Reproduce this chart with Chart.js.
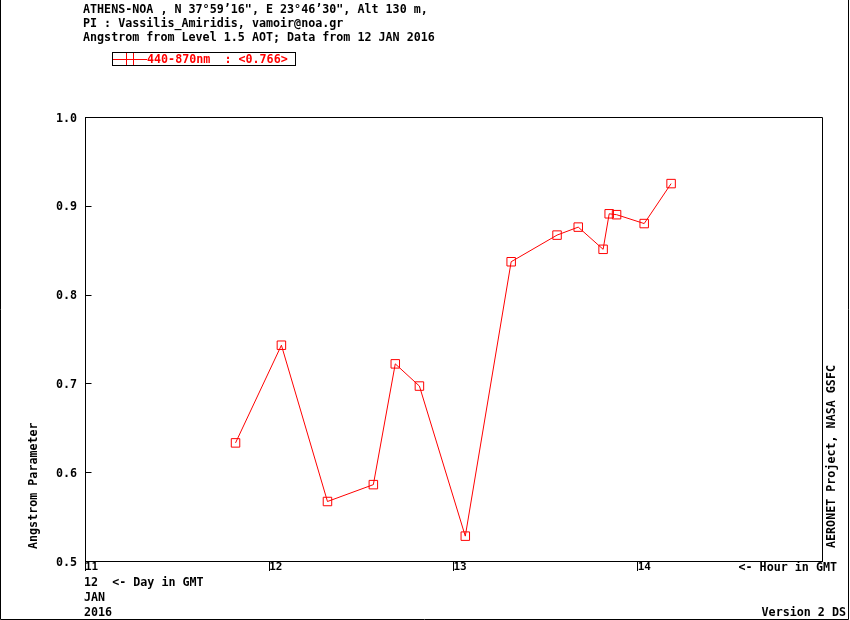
<!DOCTYPE html>
<html>
<head>
<meta charset="utf-8">
<script src="https://cdn.jsdelivr.net/npm/chart.js@4/dist/chart.umd.min.js"></script>
<style>
html,body{margin:0;padding:0;background:#fff;}
canvas{display:block;}
</style>
</head>
<body>
<canvas id="c" width="850" height="620"></canvas>
<script>
// ---- data ----
const hours = [11.817, 12.066, 12.316, 12.565, 12.684, 12.815, 13.064, 13.313, 13.562, 13.677, 13.812, 13.845, 13.885, 14.035, 14.181];
const angstrom = [0.633, 0.743, 0.567, 0.586, 0.722, 0.697, 0.528, 0.837, 0.867, 0.876, 0.851, 0.891, 0.890, 0.880, 0.925];
const xTickLabels = ['11', '12', '13', '14'];
const yTickLabels = ['0.5', '0.6', '0.7', '0.8', '0.9', '1.0'];
const seriesLabel = '440-870nm  : <0.766>';
const headerLines = [
  'ATHENS-NOA , N 37\u00b059\u201916", E 23\u00b046\u201930", Alt 130 m,',
  'PI : Vassilis_Amiridis, vamoir@noa.gr',
  'Angstrom from Level 1.5 AOT; Data from 12 JAN 2016'
];
const dateLines = ['12  <- Day in GMT', 'JAN', '2016'];

const MONO = '"DejaVu Sans Mono", "Liberation Mono", monospace';
const FS = 11.7;

const decor = {
  id: 'decor',
  afterDraw(chart) {
    const ctx = chart.ctx;
    const a = chart.chartArea;
    const ys = chart.scales.y;
    ctx.save();
    ctx.strokeStyle = '#000';
    ctx.lineWidth = 1;
    // outer frame (left, right, bottom)
    ctx.beginPath();
    ctx.moveTo(0.5, 0); ctx.lineTo(0.5, 619.5);
    ctx.lineTo(848.5, 619.5); ctx.lineTo(848.5, 0);
    ctx.stroke();
    // plot top and right borders
    const L = Math.round(a.left) + 0.5, R = Math.round(a.right) + 0.5;
    const T = Math.round(a.top) + 0.5, B = Math.round(a.bottom) + 0.5;
    ctx.beginPath();
    ctx.moveTo(L, T); ctx.lineTo(R, T); ctx.lineTo(R, B);
    ctx.stroke();
    // inward y ticks
    ctx.beginPath();
    ys.ticks.forEach(t => {
      const py = Math.round(ys.getPixelForValue(t.value)) + 0.5;
      ctx.moveTo(L, py); ctx.lineTo(L + 6, py);
    });
    ctx.stroke();

    // header
    ctx.fillStyle = '#000';
    ctx.font = 'bold ' + FS + 'px ' + MONO;
    ctx.textBaseline = 'alphabetic';
    ctx.textAlign = 'left';
    headerLines.forEach((s, i) => ctx.fillText(s, 83, 13 + i * 14));

    // legend
    ctx.strokeStyle = '#000';
    ctx.strokeRect(112.5, 52.5, 183, 13);
    ctx.strokeStyle = '#ff0000';
    ctx.beginPath();
    ctx.moveTo(113, 59.5); ctx.lineTo(147, 59.5);
    ctx.moveTo(126.5, 53); ctx.lineTo(126.5, 65);
    ctx.moveTo(133.5, 53); ctx.lineTo(133.5, 65);
    ctx.stroke();
    ctx.fillStyle = '#ff0000';
    ctx.fillText(chart.data.datasets[0].label, 147, 63);

    // bottom texts
    ctx.fillStyle = '#000';
    dateLines.forEach((s, i) => ctx.fillText(s, 84, 586 + i * 15));
    ctx.textAlign = 'right';
    ctx.fillText('<- Hour in GMT', 837, 571);
    ctx.fillText('Version 2 DS', 846, 616);

    // rotated texts
    ctx.textAlign = 'left';
    ctx.save();
    ctx.translate(37, 549);
    ctx.rotate(-Math.PI / 2);
    ctx.fillText('Angstrom Parameter', 0, 0);
    ctx.restore();
    ctx.save();
    ctx.translate(835, 548);
    ctx.rotate(-Math.PI / 2);
    ctx.fillText('AERONET Project, NASA GSFC', 0, 0);
    ctx.restore();
    ctx.restore();
  }
};

new Chart(document.getElementById('c'), {
  type: 'scatter',
  data: {
    datasets: [{
      label: seriesLabel,
      data: hours.map((h, i) => ({ x: h, y: angstrom[i] })),
      showLine: true,
      tension: 0,
      borderColor: '#ff0000',
      borderWidth: 1,
      pointStyle: 'rect',
      pointRadius: 6,
      pointBorderColor: '#ff0000',
      pointBackgroundColor: 'rgba(0,0,0,0)',
      pointBorderWidth: 1
    }]
  },
  options: {
    responsive: false,
    animation: false,
    devicePixelRatio: 1,
    layout: { padding: { top: 117, right: 28, left: 0, bottom: 0 } },
    plugins: { legend: { display: false }, tooltip: { enabled: false } },
    scales: {
      x: {
        type: 'linear',
        min: 11, max: 15,
        afterFit: s => { s.height = 59; },
        border: { display: true, color: '#000', width: 1 },
        grid: {
          drawOnChartArea: false, drawTicks: true, tickLength: 10,
          color: (c) => (c.tick && xTickLabels.includes(String(c.tick.value))) ? '#000' : 'rgba(0,0,0,0)'
        },
        ticks: {
          stepSize: 1,
          autoSkip: false,
          maxRotation: 0,
          align: 'start',
          padding: -10,
          color: '#000',
          font: { family: MONO, size: 11, weight: 'bold' },
          callback: (v) => xTickLabels.includes(String(v)) ? String(v) : ''
        }
      },
      y: {
        min: 0.5, max: 1.0,
        afterFit: s => { s.width = 85; },
        border: { display: true, color: '#000', width: 1 },
        grid: { drawOnChartArea: false, drawTicks: false },
        ticks: {
          stepSize: 0.1,
          padding: 8,
          labelOffset: 1.5,
          color: '#000',
          font: { family: MONO, size: FS, weight: 'bold' },
          callback: (v) => {
            const s = Number(v).toFixed(1);
            return yTickLabels.includes(s) ? s : '';
          }
        }
      }
    }
  },
  plugins: [decor]
});
</script>
</body>
</html>
